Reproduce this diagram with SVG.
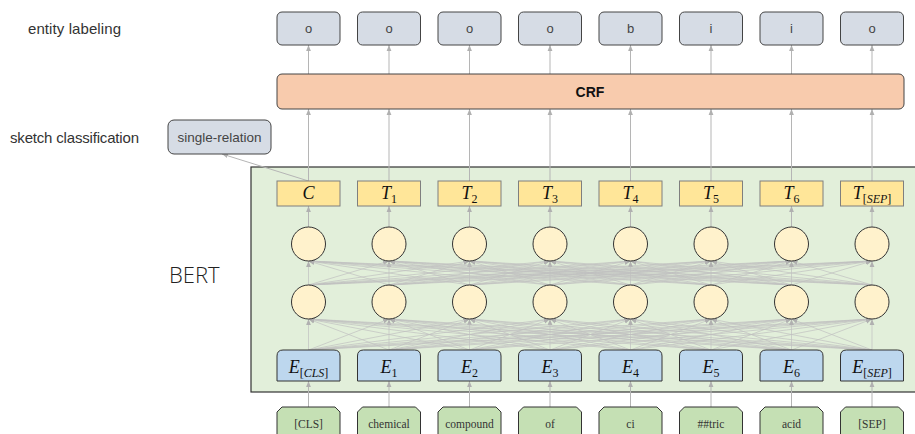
<svg xmlns="http://www.w3.org/2000/svg" width="915" height="434" viewBox="0 0 915 434">
<defs>
<marker id="ah" viewBox="0 0 10 10" refX="10" refY="5" markerUnits="userSpaceOnUse" markerWidth="6" markerHeight="6" orient="auto"><path d="M0,1L10,5L0,9z" fill="#b0b0b0"/></marker>
<style>
.lbl{font-family:"Liberation Sans","DejaVu Sans",sans-serif;font-size:15px;fill:#333}
.out{fill:#D6DCE5;stroke:#444;stroke-width:1}
.outt{font-family:"Liberation Sans",sans-serif;font-size:13px;fill:#444;text-anchor:middle}
.tb{fill:#FFE699;stroke:#7f7f7f;stroke-width:1}
.eb{fill:#BDD7EE;stroke:#333;stroke-width:1}
.tk{fill:#C5E0B4;stroke:#333;stroke-width:1}
.cir{fill:#FFF2CC;stroke:#333;stroke-width:1}
.m{font-family:"Liberation Serif","DejaVu Serif",serif;font-size:18px;font-style:italic;fill:#111;text-anchor:middle}
.s{font-size:12px;font-style:normal}
.si{font-size:12px;font-style:italic}
.tok{font-family:"Liberation Serif","Times New Roman",serif;font-size:11.5px;fill:#333;text-anchor:middle}
.ar{stroke:#b5b5b5;stroke-width:1;fill:none;marker-end:url(#ah)}
.fc{stroke:#c0c0c0;stroke-width:0.7;fill:none;marker-end:url(#ah)}
</style>
</defs>

<g id="labels">
<text class="lbl" x="28" y="34" textLength="93">entity labeling</text>
<text class="lbl" x="10" y="143" textLength="129">sketch classification</text>
<text x="169" y="283" style="font-family:'Open Sans','Noto Sans',sans-serif;font-weight:300;font-size:22px;fill:#222">BERT</text>
</g>

<g id="bert">
<rect x="251" y="167" width="670" height="225" fill="#E2EFDA" stroke="#333" stroke-width="1.2"/>
</g>

<g id="connectors">
<path class="ar" d="M308.5 74V45"/><path class="ar" d="M389 74V45"/><path class="ar" d="M469.5 74V45"/><path class="ar" d="M550 74V45"/><path class="ar" d="M630.5 74V45"/><path class="ar" d="M711 74V45"/><path class="ar" d="M791.5 74V45"/><path class="ar" d="M872 74V45"/>
<path class="ar" d="M308.5 181V109"/><path class="ar" d="M389 181V109"/><path class="ar" d="M469.5 181V109"/><path class="ar" d="M550 181V109"/><path class="ar" d="M630.5 181V109"/><path class="ar" d="M711 181V109"/><path class="ar" d="M791.5 181V109"/><path class="ar" d="M872 181V109"/>
<path class="ar" d="M308.5 181L222 154"/>
<path class="ar" d="M308.5 227V206"/><path class="ar" d="M389 227V206"/><path class="ar" d="M469.5 227V206"/><path class="ar" d="M550 227V206"/><path class="ar" d="M630.5 227V206"/><path class="ar" d="M711 227V206"/><path class="ar" d="M791.5 227V206"/><path class="ar" d="M872 227V206"/>
<path class="ar" d="M308.5 407V381"/><path class="ar" d="M389 407V381"/><path class="ar" d="M469.5 407V381"/><path class="ar" d="M550 407V381"/><path class="ar" d="M630.5 407V381"/><path class="ar" d="M711 407V381"/><path class="ar" d="M791.5 407V381"/><path class="ar" d="M872 407V381"/>
<g id="fc-bottom">
<path class="fc" d="M308.5 350L308.5 319"/><path class="fc" d="M308.5 350L389 319"/><path class="fc" d="M308.5 350L469.5 319"/><path class="fc" d="M308.5 350L550 319"/><path class="fc" d="M308.5 350L630.5 319"/><path class="fc" d="M308.5 350L711 319"/><path class="fc" d="M308.5 350L791.5 319"/><path class="fc" d="M308.5 350L872 319"/>
<path class="fc" d="M389 350L308.5 319"/><path class="fc" d="M389 350L389 319"/><path class="fc" d="M389 350L469.5 319"/><path class="fc" d="M389 350L550 319"/><path class="fc" d="M389 350L630.5 319"/><path class="fc" d="M389 350L711 319"/><path class="fc" d="M389 350L791.5 319"/><path class="fc" d="M389 350L872 319"/>
<path class="fc" d="M469.5 350L308.5 319"/><path class="fc" d="M469.5 350L389 319"/><path class="fc" d="M469.5 350L469.5 319"/><path class="fc" d="M469.5 350L550 319"/><path class="fc" d="M469.5 350L630.5 319"/><path class="fc" d="M469.5 350L711 319"/><path class="fc" d="M469.5 350L791.5 319"/><path class="fc" d="M469.5 350L872 319"/>
<path class="fc" d="M550 350L308.5 319"/><path class="fc" d="M550 350L389 319"/><path class="fc" d="M550 350L469.5 319"/><path class="fc" d="M550 350L550 319"/><path class="fc" d="M550 350L630.5 319"/><path class="fc" d="M550 350L711 319"/><path class="fc" d="M550 350L791.5 319"/><path class="fc" d="M550 350L872 319"/>
<path class="fc" d="M630.5 350L308.5 319"/><path class="fc" d="M630.5 350L389 319"/><path class="fc" d="M630.5 350L469.5 319"/><path class="fc" d="M630.5 350L550 319"/><path class="fc" d="M630.5 350L630.5 319"/><path class="fc" d="M630.5 350L711 319"/><path class="fc" d="M630.5 350L791.5 319"/><path class="fc" d="M630.5 350L872 319"/>
<path class="fc" d="M711 350L308.5 319"/><path class="fc" d="M711 350L389 319"/><path class="fc" d="M711 350L469.5 319"/><path class="fc" d="M711 350L550 319"/><path class="fc" d="M711 350L630.5 319"/><path class="fc" d="M711 350L711 319"/><path class="fc" d="M711 350L791.5 319"/><path class="fc" d="M711 350L872 319"/>
<path class="fc" d="M791.5 350L308.5 319"/><path class="fc" d="M791.5 350L389 319"/><path class="fc" d="M791.5 350L469.5 319"/><path class="fc" d="M791.5 350L550 319"/><path class="fc" d="M791.5 350L630.5 319"/><path class="fc" d="M791.5 350L711 319"/><path class="fc" d="M791.5 350L791.5 319"/><path class="fc" d="M791.5 350L872 319"/>
<path class="fc" d="M872 350L308.5 319"/><path class="fc" d="M872 350L389 319"/><path class="fc" d="M872 350L469.5 319"/><path class="fc" d="M872 350L550 319"/><path class="fc" d="M872 350L630.5 319"/><path class="fc" d="M872 350L711 319"/><path class="fc" d="M872 350L791.5 319"/><path class="fc" d="M872 350L872 319"/>
</g>
<g id="fc-top">
<path class="fc" d="M308.5 285L308.5 261"/><path class="fc" d="M308.5 285L389 261"/><path class="fc" d="M308.5 285L469.5 261"/><path class="fc" d="M308.5 285L550 261"/><path class="fc" d="M308.5 285L630.5 261"/><path class="fc" d="M308.5 285L711 261"/><path class="fc" d="M308.5 285L791.5 261"/><path class="fc" d="M308.5 285L872 261"/>
<path class="fc" d="M389 285L308.5 261"/><path class="fc" d="M389 285L389 261"/><path class="fc" d="M389 285L469.5 261"/><path class="fc" d="M389 285L550 261"/><path class="fc" d="M389 285L630.5 261"/><path class="fc" d="M389 285L711 261"/><path class="fc" d="M389 285L791.5 261"/><path class="fc" d="M389 285L872 261"/>
<path class="fc" d="M469.5 285L308.5 261"/><path class="fc" d="M469.5 285L389 261"/><path class="fc" d="M469.5 285L469.5 261"/><path class="fc" d="M469.5 285L550 261"/><path class="fc" d="M469.5 285L630.5 261"/><path class="fc" d="M469.5 285L711 261"/><path class="fc" d="M469.5 285L791.5 261"/><path class="fc" d="M469.5 285L872 261"/>
<path class="fc" d="M550 285L308.5 261"/><path class="fc" d="M550 285L389 261"/><path class="fc" d="M550 285L469.5 261"/><path class="fc" d="M550 285L550 261"/><path class="fc" d="M550 285L630.5 261"/><path class="fc" d="M550 285L711 261"/><path class="fc" d="M550 285L791.5 261"/><path class="fc" d="M550 285L872 261"/>
<path class="fc" d="M630.5 285L308.5 261"/><path class="fc" d="M630.5 285L389 261"/><path class="fc" d="M630.5 285L469.5 261"/><path class="fc" d="M630.5 285L550 261"/><path class="fc" d="M630.5 285L630.5 261"/><path class="fc" d="M630.5 285L711 261"/><path class="fc" d="M630.5 285L791.5 261"/><path class="fc" d="M630.5 285L872 261"/>
<path class="fc" d="M711 285L308.5 261"/><path class="fc" d="M711 285L389 261"/><path class="fc" d="M711 285L469.5 261"/><path class="fc" d="M711 285L550 261"/><path class="fc" d="M711 285L630.5 261"/><path class="fc" d="M711 285L711 261"/><path class="fc" d="M711 285L791.5 261"/><path class="fc" d="M711 285L872 261"/>
<path class="fc" d="M791.5 285L308.5 261"/><path class="fc" d="M791.5 285L389 261"/><path class="fc" d="M791.5 285L469.5 261"/><path class="fc" d="M791.5 285L550 261"/><path class="fc" d="M791.5 285L630.5 261"/><path class="fc" d="M791.5 285L711 261"/><path class="fc" d="M791.5 285L791.5 261"/><path class="fc" d="M791.5 285L872 261"/>
<path class="fc" d="M872 285L308.5 261"/><path class="fc" d="M872 285L389 261"/><path class="fc" d="M872 285L469.5 261"/><path class="fc" d="M872 285L550 261"/><path class="fc" d="M872 285L630.5 261"/><path class="fc" d="M872 285L711 261"/><path class="fc" d="M872 285L791.5 261"/><path class="fc" d="M872 285L872 261"/>
</g>
</g>

<g id="outputs">
<g id="out0"><rect class="out" x="277" y="12" width="63" height="33" rx="5"/><text class="outt" x="308.5" y="33">o</text></g>
<g id="out1"><rect class="out" x="357.5" y="12" width="63" height="33" rx="5"/><text class="outt" x="389" y="33">o</text></g>
<g id="out2"><rect class="out" x="438" y="12" width="63" height="33" rx="5"/><text class="outt" x="469.5" y="33">o</text></g>
<g id="out3"><rect class="out" x="518.5" y="12" width="63" height="33" rx="5"/><text class="outt" x="550" y="33">o</text></g>
<g id="out4"><rect class="out" x="599" y="12" width="63" height="33" rx="5"/><text class="outt" x="630.5" y="33">b</text></g>
<g id="out5"><rect class="out" x="679.5" y="12" width="63" height="33" rx="5"/><text class="outt" x="711" y="33">i</text></g>
<g id="out6"><rect class="out" x="760" y="12" width="63" height="33" rx="5"/><text class="outt" x="791.5" y="33">i</text></g>
<g id="out7"><rect class="out" x="840.5" y="12" width="63" height="33" rx="5"/><text class="outt" x="872" y="33">o</text></g>
</g>

<g id="crf">
<rect x="277" y="74" width="627" height="35" rx="5" fill="#F8CBAD" stroke="#444" stroke-width="1"/>
<text x="590" y="97" style="font-family:'Liberation Sans',sans-serif;font-weight:bold;font-size:14px;fill:#111;text-anchor:middle">CRF</text>
</g>

<g id="sketch">
<rect class="out" x="168" y="120" width="103" height="34" rx="6"/>
<text class="outt" x="219.5" y="142" style="font-size:13.5px">single-relation</text>
</g>

<g id="tlayer">
<g id="t0"><rect class="tb" x="277" y="181" width="63" height="25"/><text class="m" x="308.5" y="199">C</text></g>
<g id="t1"><rect class="tb" x="357.5" y="181" width="63" height="25"/><text class="m" x="389" y="199">T<tspan class="s" dy="4">1</tspan></text></g>
<g id="t2"><rect class="tb" x="438" y="181" width="63" height="25"/><text class="m" x="469.5" y="199">T<tspan class="s" dy="4">2</tspan></text></g>
<g id="t3"><rect class="tb" x="518.5" y="181" width="63" height="25"/><text class="m" x="550" y="199">T<tspan class="s" dy="4">3</tspan></text></g>
<g id="t4"><rect class="tb" x="599" y="181" width="63" height="25"/><text class="m" x="630.5" y="199">T<tspan class="s" dy="4">4</tspan></text></g>
<g id="t5"><rect class="tb" x="679.5" y="181" width="63" height="25"/><text class="m" x="711" y="199">T<tspan class="s" dy="4">5</tspan></text></g>
<g id="t6"><rect class="tb" x="760" y="181" width="63" height="25"/><text class="m" x="791.5" y="199">T<tspan class="s" dy="4">6</tspan></text></g>
<g id="t7"><rect class="tb" x="840.5" y="181" width="63" height="25"/><text class="m" x="872" y="199">T<tspan class="s" dy="4">[</tspan><tspan class="si">SEP</tspan><tspan class="s">]</tspan></text></g>
</g>

<g id="hidden2">
<circle class="cir" cx="308.5" cy="244" r="17"/><circle class="cir" cx="389" cy="244" r="17"/><circle class="cir" cx="469.5" cy="244" r="17"/><circle class="cir" cx="550" cy="244" r="17"/><circle class="cir" cx="630.5" cy="244" r="17"/><circle class="cir" cx="711" cy="244" r="17"/><circle class="cir" cx="791.5" cy="244" r="17"/><circle class="cir" cx="872" cy="244" r="17"/>
</g>
<g id="hidden1">
<circle class="cir" cx="308.5" cy="302" r="17"/><circle class="cir" cx="389" cy="302" r="17"/><circle class="cir" cx="469.5" cy="302" r="17"/><circle class="cir" cx="550" cy="302" r="17"/><circle class="cir" cx="630.5" cy="302" r="17"/><circle class="cir" cx="711" cy="302" r="17"/><circle class="cir" cx="791.5" cy="302" r="17"/><circle class="cir" cx="872" cy="302" r="17"/>
</g>

<g id="elayer">
<g id="e0"><path class="eb" d="M277 381V356Q277 350 283 350H334Q340 350 340 356V381Z"/><text class="m" x="308.5" y="373">E<tspan class="s" dy="4">[</tspan><tspan class="si">CLS</tspan><tspan class="s">]</tspan></text></g>
<g id="e1"><path class="eb" d="M357.5 381V356Q357.5 350 363.5 350H414.5Q420.5 350 420.5 356V381Z"/><text class="m" x="389" y="373">E<tspan class="s" dy="4">1</tspan></text></g>
<g id="e2"><path class="eb" d="M438 381V356Q438 350 444 350H495Q501 350 501 356V381Z"/><text class="m" x="469.5" y="373">E<tspan class="s" dy="4">2</tspan></text></g>
<g id="e3"><path class="eb" d="M518.5 381V356Q518.5 350 524.5 350H575.5Q581.5 350 581.5 356V381Z"/><text class="m" x="550" y="373">E<tspan class="s" dy="4">3</tspan></text></g>
<g id="e4"><path class="eb" d="M599 381V356Q599 350 605 350H656Q662 350 662 356V381Z"/><text class="m" x="630.5" y="373">E<tspan class="s" dy="4">4</tspan></text></g>
<g id="e5"><path class="eb" d="M679.5 381V356Q679.5 350 685.5 350H736.5Q742.5 350 742.5 356V381Z"/><text class="m" x="711" y="373">E<tspan class="s" dy="4">5</tspan></text></g>
<g id="e6"><path class="eb" d="M760 381V356Q760 350 766 350H817Q823 350 823 356V381Z"/><text class="m" x="791.5" y="373">E<tspan class="s" dy="4">6</tspan></text></g>
<g id="e7"><path class="eb" d="M840.5 381V356Q840.5 350 846.5 350H897.5Q903.5 350 903.5 356V381Z"/><text class="m" x="872" y="373">E<tspan class="s" dy="4">[</tspan><tspan class="si">SEP</tspan><tspan class="s">]</tspan></text></g>
</g>

<g id="tokens">
<g id="k0"><path class="tk" d="M277 440V412L282 407H335L340 412V440Z"/><text class="tok" x="308.5" y="428">[CLS]</text></g>
<g id="k1"><path class="tk" d="M357.5 440V412L362.5 407H415.5L420.5 412V440Z"/><text class="tok" x="389" y="428">chemical</text></g>
<g id="k2"><path class="tk" d="M438 440V412L443 407H496L501 412V440Z"/><text class="tok" x="469.5" y="428">compound</text></g>
<g id="k3"><path class="tk" d="M518.5 440V412L523.5 407H576.5L581.5 412V440Z"/><text class="tok" x="550" y="428">of</text></g>
<g id="k4"><path class="tk" d="M599 440V412L604 407H657L662 412V440Z"/><text class="tok" x="630.5" y="428">ci</text></g>
<g id="k5"><path class="tk" d="M679.5 440V412L684.5 407H737.5L742.5 412V440Z"/><text class="tok" x="711" y="428">##tric</text></g>
<g id="k6"><path class="tk" d="M760 440V412L765 407H818L823 412V440Z"/><text class="tok" x="791.5" y="428">acid</text></g>
<g id="k7"><path class="tk" d="M840.5 440V412L845.5 407H898.5L903.5 412V440Z"/><text class="tok" x="872" y="428">[SEP]</text></g>
</g>
</svg>
